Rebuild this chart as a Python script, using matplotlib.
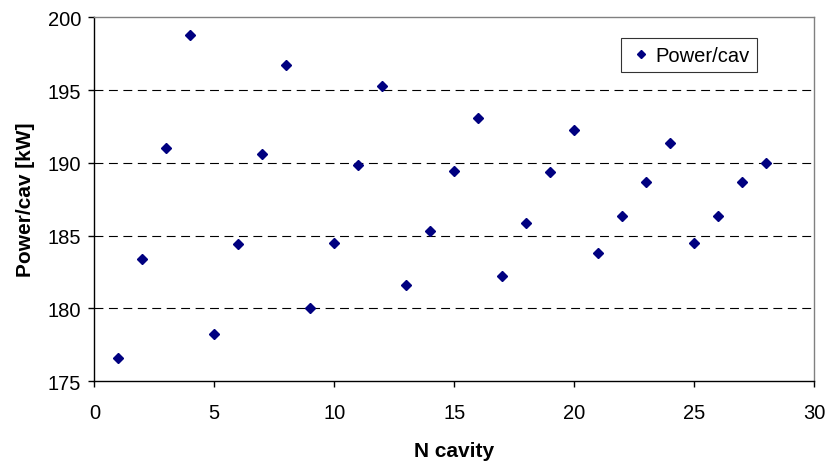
import matplotlib.pyplot as plt
import numpy as np

plt.rcParams['font.family'] = ['Liberation Sans', 'DejaVu Sans']

n_cavity = list(range(1, 29))
power_per_cav = [176.56, 183.36, 191.02, 198.76, 178.23, 184.42, 190.60, 196.70,
                 180.04, 184.51, 189.87, 195.26, 181.62, 185.33, 189.46, 193.08,
                 182.24, 185.86, 189.37, 192.28, 183.80, 186.37, 188.66, 191.34,
                 184.51, 186.37, 188.66, 189.99]

fig = plt.figure(figsize=(8.26, 4.64), dpi=100)
ax = fig.add_axes([0.1142, 0.1767, 0.8713, 0.7839])

ax.plot(n_cavity, power_per_cav, linestyle='none', marker='D', markersize=5.5,
        color='#000080', label='Power/cav')

ax.set_xlim(0, 30)
ax.set_ylim(175, 200)
ax.set_xticks(np.arange(0, 31, 5))
ax.set_yticks(np.arange(175, 201, 5))

for y in [180, 185, 190, 195]:
    ax.axhline(y, color='black', linewidth=0.8, linestyle=(0, (8, 5)), zorder=0)

ax.spines['left'].set_color('black')
ax.spines['bottom'].set_color('black')
ax.spines['top'].set_color('#808080')
ax.spines['right'].set_color('#808080')
for s in ax.spines.values():
    s.set_linewidth(1.0)

ax.tick_params(direction='out', length=4.5, width=1, labelsize=14.5)
ax.tick_params(axis='y', pad=5)
ax.tick_params(axis='x', pad=11)

ax.set_xlabel('N cavity', fontsize=15, fontweight='bold', labelpad=14)
ax.set_ylabel('Power/cav [kW]', fontsize=15, fontweight='bold', labelpad=9)

leg = ax.legend(loc='upper right', bbox_to_anchor=(0.9208, 0.943), fontsize=14.5,
                frameon=True, fancybox=False, handletextpad=0.1, handlelength=1.2,
                borderpad=0.38, borderaxespad=0, markerscale=0.75)
leg.get_frame().set_edgecolor('black')
leg.get_frame().set_linewidth(0.8)

fig.savefig('out.png', dpi=100)
